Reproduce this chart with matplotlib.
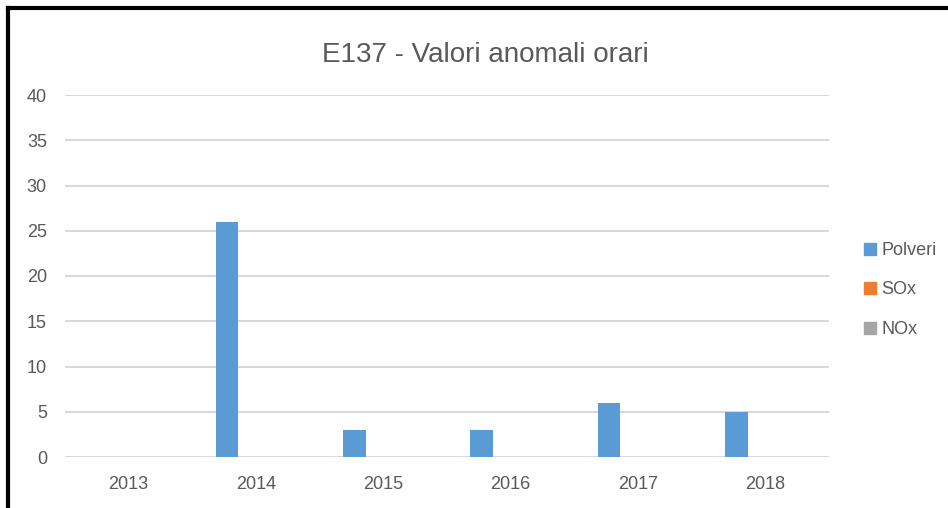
import numpy as np
import matplotlib.pyplot as plt
from matplotlib.lines import Line2D

years = ["2013", "2014", "2015", "2016", "2017", "2018"]
polveri = [0, 26, 3, 3, 6, 5]
sox = [0, 0, 0, 0, 0, 0]
nox = [0, 0, 0, 0, 0, 0]

series = [("Polveri", polveri, "#5B9BD5"),
          ("SOx", sox, "#ED7D31"),
          ("NOx", nox, "#A5A5A5")]

font = ["Liberation Sans Narrow", "Liberation Sans", "DejaVu Sans"]
plt.rcParams['font.family'] = font

fig = plt.figure(figsize=(9.48, 5.08), dpi=100)
ax = fig.add_axes([65/948, 1 - 457/508, (829 - 65)/948, (457 - 95)/508])

x = np.arange(len(years))
w = 0.178
step = 0.228
for i, (name, vals, col) in enumerate(series):
    ax.bar(x + (i - 1) * step, vals, width=w, color=col, label=name, zorder=3)

ax.set_xlim(-0.5, len(years) - 0.5)
ax.set_ylim(0, 40)
ax.set_yticks(range(0, 41, 5))
ax.set_xticks(x)
ax.set_xticklabels(years)
ax.grid(axis='y', color='#D9D9D9', linewidth=1.5, zorder=0)
for s in ax.spines.values():
    s.set_visible(False)
ax.tick_params(length=0, labelsize=13, labelcolor='#595959')
ax.tick_params(axis='x', pad=14)
ax.tick_params(axis='y', pad=13)

fig.text(485/948, 1 - 55/508, "E137 - Valori anomali orari", ha='center', va='center',
         fontsize=20, color='#595959')

handles = [Line2D([], [], marker='s', linestyle='none', markersize=8,
                  markerfacecolor=c, markeredgecolor=c) for _, _, c in series]
fig.legend(handles, [s[0] for s in series], loc='center left',
           bbox_to_anchor=(845/948, 1 - 290/508), frameon=False,
           fontsize=13, labelcolor='#595959', handletextpad=0.1,
           labelspacing=1.25, handlelength=1.0)

# chart frame (left and top edges visible)
fig.add_artist(Line2D([8/948, 8/948], [0, 1 - 8/508], color='black', linewidth=3,
                      transform=fig.transFigure))
fig.add_artist(Line2D([8/948, 1], [1 - 8/508, 1 - 8/508], color='black', linewidth=3,
                      transform=fig.transFigure))

fig.savefig("out.png", dpi=100)
